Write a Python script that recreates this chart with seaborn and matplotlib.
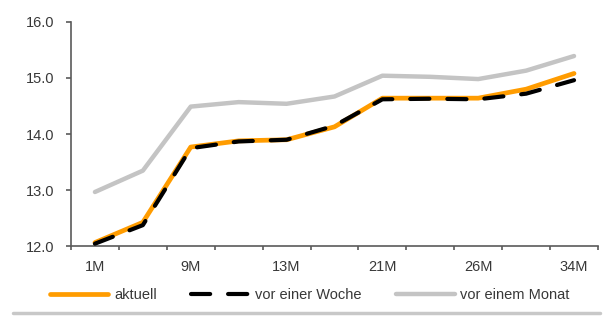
import matplotlib
matplotlib.use("Agg")
import matplotlib.pyplot as plt
from matplotlib.lines import Line2D
import seaborn as sns
import pandas as pd

# Laufzeiten (nur jede zweite wird beschriftet)
laufzeiten = ["1M", "5M", "9M", "11M", "13M", "17M", "21M", "23M", "26M", "30M", "34M"]
aktuell = [12.07, 12.43, 13.77, 13.88, 13.90, 14.13, 14.64, 14.64, 14.64, 14.80, 15.08]
vor_einer_woche = [12.05, 12.38, 13.75, 13.87, 13.90, 14.15, 14.62, 14.63, 14.62, 14.72, 14.96]
vor_einem_monat = [12.97, 13.35, 14.49, 14.57, 14.54, 14.67, 15.04, 15.02, 14.98, 15.13, 15.39]
serien = ["aktuell", "vor einer Woche", "vor einem Monat"]

sns.set_theme(style="white")
plt.rcParams["font.family"] = ["Liberation Sans", "DejaVu Sans"]

df = pd.DataFrame({
    "Laufzeit": laufzeiten * 3,
    "Wert": aktuell + vor_einer_woche + vor_einem_monat,
    "Serie": [serien[0]] * len(laufzeiten) + [serien[1]] * len(laufzeiten) + [serien[2]] * len(laufzeiten),
})

fig = plt.figure(figsize=(6.03, 3.2), dpi=100)
ax = fig.add_axes([0.1177, 0.2297, 0.8740, 0.7023])

farben = {"aktuell": "#ff9c00", "vor einer Woche": "#000000", "vor einem Monat": "#c4c4c4"}
strich = (0, (4.6, 4.3))
textfarbe = "#383838"

sns.lineplot(data=df[df["Serie"] == "vor einem Monat"], x="Laufzeit", y="Wert",
             color=farben["vor einem Monat"], lw=3.2, ax=ax, zorder=2, sort=False)
sns.lineplot(data=df[df["Serie"] == "aktuell"], x="Laufzeit", y="Wert",
             color=farben["aktuell"], lw=3.4, ax=ax, zorder=3, sort=False)
sns.lineplot(data=df[df["Serie"] == "vor einer Woche"], x="Laufzeit", y="Wert",
             color=farben["vor einer Woche"], lw=3.0, ax=ax, zorder=4,
             sort=False, linestyle=strich, dash_capstyle="round")

ax.set_xlim(-0.5, len(laufzeiten) - 0.5)
ax.set_ylim(12.0, 16.0)
ax.set_yticks([12, 13, 14, 15, 16])
ax.set_yticklabels([f"{v:.1f}" for v in [12, 13, 14, 15, 16]])
ax.set_xticks(range(0, len(laufzeiten), 2))
ax.set_xticklabels(laufzeiten[::2])
ax.set_xticks([i - 0.5 for i in range(len(laufzeiten) + 1)], minor=True)
ax.set_xlabel("")
ax.set_ylabel("")

for s in ["top", "right"]:
    ax.spines[s].set_visible(False)
for s in ["left", "bottom"]:
    ax.spines[s].set_color("#5a5a5a")
    ax.spines[s].set_linewidth(1.2)

ax.tick_params(axis="y", which="major", left=True, length=3.6, width=1.2, color="#5a5a5a",
               labelsize=10.5, labelcolor=textfarbe, pad=8)
ax.tick_params(axis="x", which="major", bottom=False, length=0, labelsize=10.5,
               labelcolor=textfarbe, pad=10)
ax.tick_params(axis="x", which="minor", bottom=True, length=3, width=1.2, color="#5a5a5a")

handles = [
    Line2D([], [], color=farben["aktuell"], lw=3.4),
    Line2D([], [], color=farben["vor einer Woche"], lw=3.0, linestyle=strich,
           dash_capstyle="round"),
    Line2D([], [], color=farben["vor einem Monat"], lw=3.2),
]
fig.legend(handles, serien, loc="center left", bbox_to_anchor=(0.083, 0.078), ncol=3,
           frameon=False, fontsize=10.5, handlelength=4.0, handletextpad=0.4,
           columnspacing=2.35, labelcolor=textfarbe, borderpad=0, borderaxespad=0)

fig.add_artist(Line2D([0.022, 0.995], [0.022, 0.022], color="#c8c8c8", lw=2.5,
                      transform=fig.transFigure))

fig.savefig("out.png", dpi=100)
